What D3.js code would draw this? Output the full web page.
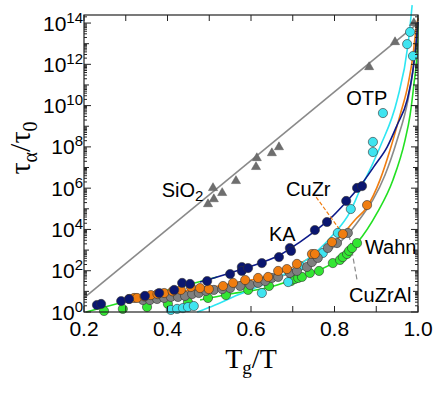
<!DOCTYPE html>
<html>
<head>
<script src="https://d3js.org/d3.v7.min.js"></script>
<style>
  body { margin: 0; background: #fff; font-family: Arial, "Liberation Sans", sans-serif; }
  svg { display: block; }
  .tick-label { font-size: 21px; fill: #000; }
  .note { font-size: 20px; fill: #000; }
  .axis-title { font-family: "Liberation Serif", "Times New Roman", serif; fill: #000; }
</style>
</head>
<body>
<svg width="436" height="396"></svg>
<script>
// Tg/T on x, log10(tau_alpha / tau_0) on y

// SiO2 (triangles) and its Arrhenius line
const sio2X = [0.497, 0.509, 0.511, 0.531, 0.564, 0.612, 0.614, 0.650, 0.667, 0.883, 0.945, 0.990];
const sio2Y = [5.23, 6.01, 5.47, 5.77, 6.35, 7.03, 7.46, 7.70, 7.99, 11.87, 13.08, 14.0];
const sio2FitX = [0.2, 1.0];
const sio2FitY = [0.68, 14.0];

// KA (navy)
const kaX = [0.231, 0.241, 0.289, 0.308, 0.346, 0.380, 0.416, 0.435, 0.454, 0.495, 0.550, 0.578, 0.578, 0.593, 0.626, 0.667, 0.693, 0.696, 0.753, 0.782, 0.828, 0.854, 0.866];
const kaY = [0.34, 0.39, 0.53, 0.63, 0.78, 0.92, 1.07, 1.41, 1.36, 1.50, 1.84, 2.18, 1.99, 2.13, 2.37, 2.66, 3.10, 2.96, 3.97, 4.36, 5.38, 6.01, 6.10];
const kaFitX = [0.478, 0.550, 0.622, 0.669, 0.717, 0.753, 0.789, 0.828, 0.861, 0.897, 0.926, 0.950, 0.974, 0.988, 0.995, 1.0];
const kaFitY = [1.45, 1.89, 2.37, 2.76, 3.39, 3.92, 4.51, 5.33, 6.10, 7.12, 7.99, 9.06, 10.27, 11.72, 12.94, 14.05];

// CuZr (orange)
const cuzrX = [0.308, 0.320, 0.327, 0.345, 0.360, 0.376, 0.392, 0.412, 0.432, 0.456, 0.478, 0.499, 0.533, 0.557, 0.586, 0.617, 0.641, 0.665, 0.686, 0.710, 0.746, 0.753, 0.794, 0.820, 0.878];
const cuzrY = [0.63, 0.68, 0.68, 0.75, 0.82, 0.87, 0.92, 1.00, 1.07, 1.21, 1.16, 1.11, 1.26, 1.41, 1.55, 1.65, 1.70, 1.99, 2.08, 2.33, 2.81, 2.81, 3.39, 3.78, 5.18];
const cuzrFitX = [0.298, 0.382, 0.478, 0.574, 0.669, 0.741, 0.789, 0.820, 0.849, 0.878, 0.909, 0.933, 0.957, 0.976, 0.988, 0.995, 1.0];
const cuzrFitY = [0.58, 0.87, 1.11, 1.45, 1.89, 2.62, 3.20, 3.78, 4.46, 5.09, 6.40, 7.85, 9.54, 11.0, 12.45, 13.66, 14.24];

// Wahn (gray)
const wahnX = [0.341, 0.358, 0.375, 0.392, 0.408, 0.425, 0.442, 0.459, 0.475, 0.492, 0.511, 0.531, 0.550, 0.574, 0.598, 0.617, 0.634, 0.650, 0.665, 0.693, 0.710, 0.734, 0.746, 0.760, 0.784, 0.806, 0.832];
const wahnY = [0.58, 0.58, 0.63, 0.68, 0.73, 0.73, 0.78, 0.87, 0.92, 1.02, 1.07, 1.11, 1.16, 1.26, 1.31, 1.41, 1.50, 1.65, 1.70, 1.89, 1.99, 2.18, 2.42, 2.62, 3.10, 3.34, 3.83];
const wahnFitX = [0.334, 0.478, 0.598, 0.693, 0.765, 0.813, 0.837, 0.866, 0.892, 0.921, 0.950, 0.976, 0.988, 0.995, 1.0];
const wahnFitY = [0.53, 0.97, 1.36, 1.89, 2.71, 3.39, 3.88, 4.65, 5.43, 6.64, 8.33, 10.27, 11.72, 12.94, 14.05];

// CuZrAl (green)
const cuzralX = [0.248, 0.293, 0.351, 0.401, 0.449, 0.497, 0.540, 0.593, 0.643, 0.696, 0.705, 0.713, 0.722, 0.741, 0.763, 0.796, 0.813, 0.820, 0.830, 0.835, 0.842, 0.854];
const cuzralY = [0.05, 0.15, 0.24, 0.39, 0.48, 0.68, 0.82, 1.07, 1.26, 1.50, 1.60, 1.65, 1.70, 1.89, 1.99, 2.37, 2.52, 2.66, 2.81, 2.96, 3.10, 3.34];
const cuzralFitX = [0.478, 0.550, 0.646, 0.717, 0.796, 0.854, 0.902, 0.940, 0.969, 0.981, 0.990, 0.998, 1.0];
const cuzralFitY = [0.58, 0.87, 1.21, 1.70, 2.37, 3.34, 4.80, 6.40, 8.33, 9.54, 11.0, 12.69, 14.05];
// low-temperature green segment
const greenLowX = [0.205, 0.519];
const greenLowY = [0.0, 1.70];

// OTP (cyan)
const otpX = [0.408, 0.423, 0.437, 0.449, 0.463, 0.626, 0.689, 0.717, 0.772, 0.808, 0.839, 0.892, 0.892, 0.916, 0.974, 0.981, 0.988];
const otpY = [0.10, 0.15, 0.19, 0.24, 0.29, 0.92, 1.45, 2.23, 2.86, 3.83, 4.99, 7.75, 8.24, 9.64, 12.98, 13.57, 12.40];
const otpFitX = [0.471, 0.514, 0.557, 0.638, 0.717, 0.796, 0.837, 0.861, 0.890, 0.911, 0.950, 0.976, 0.986];
const otpFitY = [0.0, 0.34, 0.73, 1.41, 2.28, 3.73, 4.84, 5.91, 7.12, 8.09, 10.27, 12.94, 14.87];

const xTicks = [0.2, 0.4, 0.6, 0.8, 1.0];
const xMinorTicks = [0.2, 0.3, 0.4, 0.5, 0.6, 0.7, 0.8, 0.9, 1.0];
const yTickExps = [0, 2, 4, 6, 8, 10, 12, 14];
const yTop = 14.39;

const svg = d3.select("svg");
const L = 84, R = 418, T = 15, B = 312;

const x = d3.scaleLinear().domain([0.2, 1.0]).range([L, R]);
const y = d3.scaleLog().domain([1, Math.pow(10, yTop)]).range([B, T]);

function pts(xs, ys) { return xs.map((v, i) => [v, Math.pow(10, ys[i])]); }

const line = d3.line()
    .x(d => x(d[0]))
    .y(d => y(d[1]))
    .curve(d3.curveMonotoneX);

// fit curves
const curves = [
    {d: pts(sio2FitX, sio2FitY), c: "#8a8a8a"},
    {d: pts(greenLowX, greenLowY), c: "#22e022"},
    {d: pts(cuzralFitX, cuzralFitY), c: "#22e022"},
    {d: pts(wahnFitX, wahnFitY), c: "#8a8a8a"},
    {d: pts(cuzrFitX, cuzrFitY), c: "#f07d10"},
    {d: pts(otpFitX, otpFitY), c: "#2ee6f2"},
    {d: pts(kaFitX, kaFitY), c: "#0d1a8a"}
];
svg.selectAll(".fit")
    .data(curves)
    .enter().append("path")
    .attr("class", "fit")
    .attr("d", d => line(d.d))
    .attr("fill", "none")
    .attr("stroke", d => d.c)
    .attr("stroke-width", 1.6);

// leader lines
svg.append("line")
    .attr("x1", x(0.756)).attr("y1", y(Math.pow(10, 5.57)))
    .attr("x2", x(0.820)).attr("y2", y(Math.pow(10, 3.78)))
    .attr("stroke", "#f07d10").attr("stroke-width", 1.2)
    .attr("stroke-dasharray", "4,2");
svg.append("line")
    .attr("x1", x(0.835)).attr("y1", y(Math.pow(10, 3.73)))
    .attr("x2", x(0.854)).attr("y2", y(Math.pow(10, 1.55)))
    .attr("stroke", "#8a8a8a").attr("stroke-width", 1.2)
    .attr("stroke-dasharray", "5,3");

// triangles
svg.selectAll(".tri")
    .data(pts(sio2X, sio2Y))
    .enter().append("path")
    .attr("class", "tri")
    .attr("transform", d => `translate(${x(d[0])},${y(d[1])})`)
    .attr("d", d3.symbol(d3.symbolTriangle).size(36))
    .attr("fill", "#6e6e6e")
    .attr("stroke", "#5a5a5a")
    .attr("stroke-width", 0.5);

// circles
const series = [
    {xs: cuzralX, ys: cuzralY, c: "#33e633"},
    {xs: otpX, ys: otpY, c: "#3fe4f0"},
    {xs: wahnX, ys: wahnY, c: "#7f7f7f"},
    {xs: cuzrX, ys: cuzrY, c: "#f07d10"},
    {xs: kaX, ys: kaY, c: "#0a1670"}
];
series.forEach(s => {
    svg.append("g").selectAll("circle")
        .data(pts(s.xs, s.ys))
        .enter().append("circle")
        .attr("cx", d => x(d[0]))
        .attr("cy", d => y(d[1]))
        .attr("r", 4.6)
        .attr("fill", s.c)
        .attr("stroke", "#333")
        .attr("stroke-width", 0.6);
});

// frame
svg.append("rect")
    .attr("x", L).attr("y", T)
    .attr("width", R - L).attr("height", B - T)
    .attr("fill", "none").attr("stroke", "#222").attr("stroke-width", 1.2);

// x ticks (bottom and top, inward)
const tickG = svg.append("g").attr("stroke", "#222").attr("stroke-width", 1);
xMinorTicks.forEach(v => {
    tickG.append("line").attr("x1", x(v)).attr("x2", x(v)).attr("y1", B).attr("y2", B - 6);
    tickG.append("line").attr("x1", x(v)).attr("x2", x(v)).attr("y1", T).attr("y2", T + 6);
});

// y ticks (left and right, inward)
for (let e = 0; e <= 14; e++) {
    for (let k = 1; k <= 9; k++) {
        const v = k * Math.pow(10, e);
        if (v > Math.pow(10, yTop)) break;
        const len = k === 1 ? (e % 2 === 0 ? 7 : 5) : 3;
        tickG.append("line").attr("x1", L).attr("x2", L + len).attr("y1", y(v)).attr("y2", y(v));
        tickG.append("line").attr("x1", R).attr("x2", R - len).attr("y1", y(v)).attr("y2", y(v));
    }
}

// x tick labels
svg.selectAll(".xl")
    .data(xTicks)
    .enter().append("text")
    .attr("class", "tick-label")
    .attr("x", d => x(d))
    .attr("y", B + 24)
    .attr("text-anchor", "middle")
    .text(d => d.toFixed(1));

// y tick labels as 10^n
const yl = svg.selectAll(".yl")
    .data(yTickExps)
    .enter().append("text")
    .attr("class", "tick-label")
    .attr("x", L - 1)
    .attr("y", d => y(Math.pow(10, d)) + 7.5)
    .attr("text-anchor", "end");
yl.append("tspan").text("10");
yl.append("tspan").attr("dy", -8).style("font-size", "15px").text(d => d);

// annotations
const notes = [
    {t: "KA", x: 0.643, e: 3.45},
    {t: "CuZr", x: 0.684, e: 5.62},
    {t: "OTP", x: 0.828, e: 10.03},
    {t: "Wahn", x: 0.873, e: 2.81},
    {t: "CuZrAl", x: 0.835, e: 0.48}
];
svg.selectAll(".note")
    .data(notes)
    .enter().append("text")
    .attr("class", "note")
    .attr("x", d => x(d.x))
    .attr("y", d => y(Math.pow(10, d.e)))
    .text(d => d.t);
const sio2Label = svg.append("text").attr("class", "note")
    .attr("x", x(0.386)).attr("y", y(Math.pow(10, 5.58)));
sio2Label.append("tspan").text("SiO");
sio2Label.append("tspan").attr("dy", 4).style("font-size", "15px").text("2");

// axis titles
const xt = svg.append("text").attr("class", "axis-title")
    .attr("x", 251).attr("y", 368)
    .attr("text-anchor", "middle")
    .style("font-size", "28px");
xt.append("tspan").text("T");
xt.append("tspan").attr("dy", 6).style("font-size", "19px").text("g");
xt.append("tspan").attr("dy", -6).text("/T");

const yt = svg.append("text").attr("class", "axis-title")
    .attr("transform", "translate(30,148) rotate(-90)")
    .attr("text-anchor", "middle")
    .style("font-size", "30px");
yt.append("tspan").text("τ");
yt.append("tspan").attr("dy", 7).style("font-size", "20px").text("α");
yt.append("tspan").attr("dy", -7).text("/τ");
yt.append("tspan").attr("dy", 7).style("font-size", "20px").text("0");
</script>
</body>
</html>
